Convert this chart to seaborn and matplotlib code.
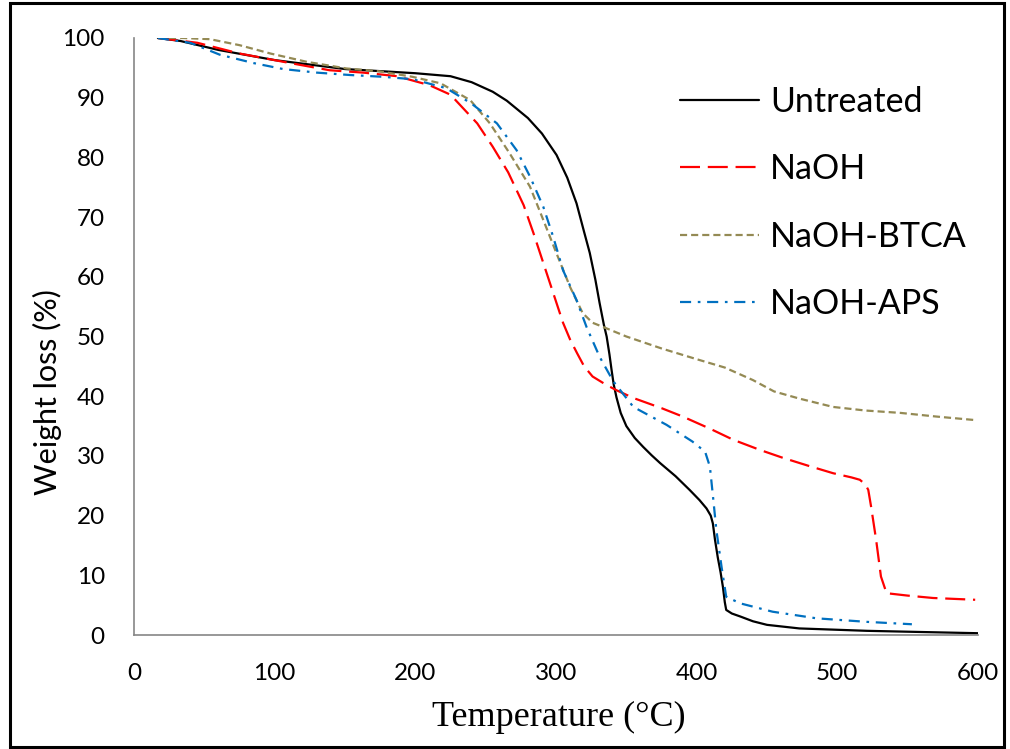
import matplotlib
matplotlib.use("Agg")
import matplotlib.pyplot as plt
from matplotlib.patches import Rectangle
import seaborn as sns
import pandas as pd

# ---------------- data ----------------
untreated_T = [17, 33, 60, 100, 150, 200, 225, 240, 255, 265, 280, 290, 300.4, 308, 314.6, 320, 324,
               328, 331, 334, 336, 338, 339.5, 341, 343, 346, 350, 356, 362, 368, 374, 385, 395, 402,
               407, 410, 411.5, 413, 415, 417, 418.7, 420, 421, 425, 431, 440, 450, 473, 521, 560, 600]
untreated_W = [100, 99.5, 98, 96.3, 94.8, 94.1, 93.6, 92.6, 91, 89.5, 86.6, 84.0, 80.4, 76.6, 72.3, 67.5,
               64, 59.5, 55.6, 52, 50, 47, 44.4, 42, 39.8, 37.2, 35, 33, 31.5, 30.1, 28.8, 26.6, 24.3,
               22.6, 21.2, 20, 18.7, 16, 13, 10.5, 8, 5.5, 4.2, 3.6, 3.1, 2.3, 1.7, 1.1, 0.7, 0.5, 0.3]

naoh_T = [17, 45, 75, 111, 139, 163, 187, 210, 225, 244, 255, 266, 277, 284, 291, 298, 305, 310, 315,
          320, 326, 335, 343, 355, 375, 390, 410, 426, 445, 461, 480, 497, 510, 516, 520, 522, 524,
          527.6, 531, 535, 550, 568, 598]
naoh_W = [100, 99.2, 97.4, 95.8, 94.6, 94.2, 93.6, 92.1, 90.5, 85.7, 81.8, 77.5, 72.0, 67.3, 62.3, 57.3,
          52.3, 49.5, 47.2, 45, 43.3, 42, 41, 39.7, 38, 36.6, 34.5, 32.7, 31, 29.7, 28.3, 27.1, 26.4,
          26, 25.2, 24.3, 21.5, 15.9, 9.8, 7, 6.6, 6.2, 5.9]

btca_T = [17, 35, 54, 75, 97, 123, 151, 175, 198, 218, 239, 253, 267, 281.5, 291, 300.4, 310, 319,
          326, 333.5, 350, 375, 400, 420, 440, 455, 473, 497, 520, 545, 570, 598]
btca_W = [100, 100, 99.8, 98.8, 97.4, 96, 94.9, 94.4, 93.5, 92.4, 89.6, 85.7, 80.7, 75.1, 69.5, 63.9,
          58.3, 53.9, 52.3, 51.6, 50, 48, 46.2, 44.8, 42.7, 40.8, 39.6, 38.2, 37.6, 37.2, 36.6, 36]

aps_T = [17, 40, 61, 85, 106, 130, 153.5, 177, 198, 222, 240, 258, 272, 281.5, 291, 298, 305, 314.6,
         321.7, 331, 340.7, 355, 378.6, 397, 406, 409.4, 411.6, 414, 417.7, 421, 431, 454, 485, 521, 553]
aps_W = [100, 99.2, 97.2, 95.8, 94.8, 94.2, 93.8, 93.5, 93.1, 91.6, 89, 85.7, 81.2, 76.8, 71.7, 66.7,
         61.1, 56.1, 51.6, 46.6, 42.5, 38.2, 35.2, 32.4, 30.7, 28.2, 23.2, 17.6, 11.4, 6.4, 5.3, 3.9,
         2.8, 2.2, 1.8]

series_names = ["Untreated", "NaOH", "NaOH-BTCA", "NaOH-APS"]
x_ticks = [0, 100, 200, 300, 400, 500, 600]
y_ticks = [0, 10, 20, 30, 40, 50, 60, 70, 80, 90, 100]

# ---------------- styling ----------------
sns.set_theme(style="white")
plt.rcParams["font.family"] = ["Lato", "DejaVu Sans"]

colors = {"Untreated": "#000000", "NaOH": "#FF0000", "NaOH-BTCA": "#948A54", "NaOH-APS": "#0070C0"}
dashes = {"Untreated": None, "NaOH": (0, (9, 3.5)), "NaOH-BTCA": (0, (3.2, 1.8)),
          "NaOH-APS": (0, (5, 3, 1.2, 3))}

data = {"Untreated": (untreated_T, untreated_W), "NaOH": (naoh_T, naoh_W),
        "NaOH-BTCA": (btca_T, btca_W), "NaOH-APS": (aps_T, aps_W)}

fig = plt.figure(figsize=(10.10, 7.49), dpi=100)
ax = fig.add_axes([134 / 1010, 1 - 635 / 749, (978 - 134) / 1010, (635 - 38) / 749])

for name in series_names:
    T, W = data[name]
    df = pd.DataFrame({"T": T, "W": W})
    sns.lineplot(data=df, x="T", y="W", ax=ax, color=colors[name], linewidth=1.6,
                 estimator=None, sort=False, label=name)
    ln = ax.lines[-1]
    if dashes[name] is not None:
        ln.set_linestyle(dashes[name])

ax.set_xlim(0, 600)
ax.set_ylim(0, 100)
ax.set_xticks(x_ticks)
ax.set_yticks(y_ticks)
ax.set_xticklabels([str(v) for v in x_ticks])
ax.set_yticklabels([str(v) for v in y_ticks])
ax.tick_params(axis="both", length=0, labelsize=17.5, colors="#000000")
ax.tick_params(axis="y", pad=21)
ax.tick_params(axis="x", pad=20)
ax.set_xlabel("")
ax.set_ylabel("")

for s in ["top", "right"]:
    ax.spines[s].set_visible(False)
for s in ["left", "bottom"]:
    ax.spines[s].set_color("#868686")
    ax.spines[s].set_linewidth(1.2)
ax.grid(False)

fig.text(559 / 1010, 1 - 717 / 749, "Temperature (\u00b0C)", ha="center", va="center",
         fontsize=26, family=["Liberation Serif", "DejaVu Serif"], color="#000000")
fig.text(47 / 1010, 1 - 392 / 749, "Weight loss (%)", ha="center", va="center", rotation=90,
         fontsize=22, family=["Lato", "DejaVu Sans"], color="#000000")

leg = ax.legend(loc="upper left", bbox_to_anchor=(680 / 1010, 1 - 86 / 749),
                bbox_transform=fig.transFigure, frameon=False, borderpad=0, borderaxespad=0,
                handlelength=2.32, handletextpad=0.32, labelspacing=1.04,
                prop={"family": ["Lato", "DejaVu Sans"], "size": 24.5})
for t in leg.get_texts():
    t.set_color("#000000")

fig.patches.append(Rectangle((10 / 1010, 2 / 749), 994 / 1010, 744 / 749, transform=fig.transFigure,
                             fill=False, edgecolor="#000000", linewidth=2.2, zorder=10))

fig.savefig("out.png", dpi=100)
